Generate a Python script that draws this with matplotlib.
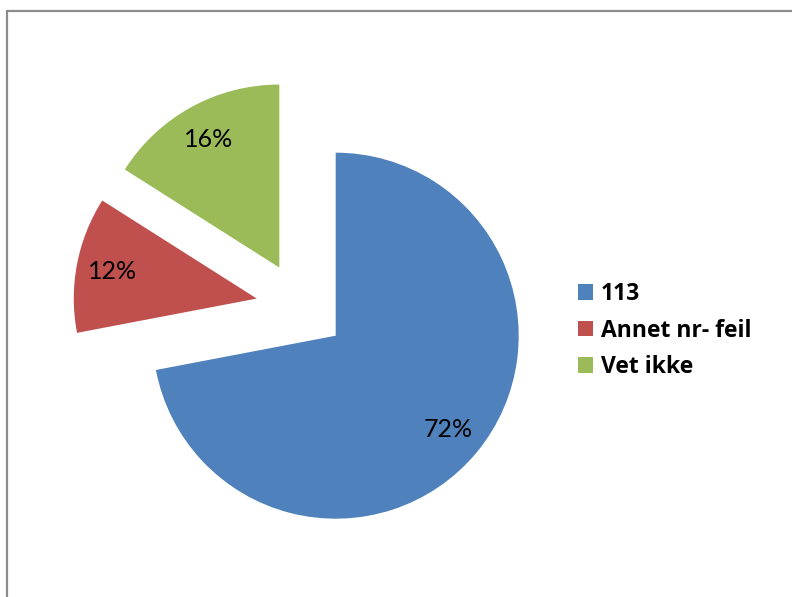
import matplotlib.pyplot as plt
from matplotlib.patches import Patch, Rectangle

# Data
labels = ['113', 'Annet nr- feil', 'Vet ikke']
shares = [72, 12, 16]
colors = ['#4F81BD', '#C0504D', '#9BBB59']

W, H = 792, 597
fig = plt.figure(figsize=(W / 100, H / 100), dpi=100)

# thin grey chart border (only left and top edges visible)
fig.patches.append(Rectangle((7 / W, -0.1), 1.2, (H - 11) / H + 0.1,
                             transform=fig.transFigure, fill=False,
                             edgecolor='#8c8c8c', linewidth=1.6))

ax = fig.add_axes([0, 0, 1, 1])
wedges, texts, autotexts = ax.pie(
    shares, colors=colors, startangle=90, counterclock=False,
    explode=[0.246] * 3, radius=1, autopct='%d%%', pctdistance=0.8,
    textprops={'fontsize': 18, 'family': 'Lato', 'color': 'black'})

# place the pie so its centre sits where it does in the original
cx, cy, r = 301, 307, 183
ax.set_aspect('auto')
ax.set_xlim(-cx / r, (W - cx) / r)
ax.set_ylim((cy - H) / r, cy / r)
ax.axis('off')

handles = [Patch(facecolor=c, edgecolor='none') for c in colors]
fig.legend(handles, labels, loc='upper left',
           bbox_to_anchor=(578 / W, 1 - 282 / H),
           frameon=False, borderpad=0, borderaxespad=0,
           handlelength=0.66, handleheight=0.66, handletextpad=0.33,
           labelspacing=0.55,
           prop={'family': 'Open Sans', 'weight': 'bold', 'size': 16.5})

fig.savefig('out.png', dpi=100)
